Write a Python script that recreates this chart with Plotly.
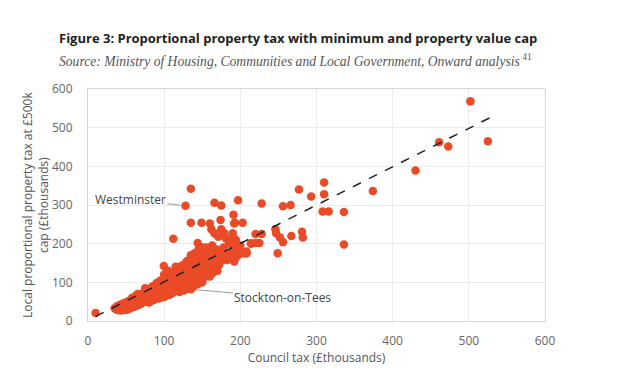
import plotly.graph_objects as go

# Council tax (£thousands) vs local proportional property tax at £500k cap (£thousands)
band_x = [35, 37, 38, 40, 40, 42, 43, 44, 45, 46, 47, 48, 49, 50, 50, 52, 52,
          53, 54, 55, 56, 57, 58, 59, 60, 60, 61, 62, 63, 64, 65, 66, 67, 68, 69, 70, 70,
          71, 72, 73, 74, 75, 76, 77, 78, 79, 80, 80, 81, 82, 83, 84, 85, 86, 87, 88, 89, 90, 90,
          91, 92, 93, 94, 95, 96, 97, 98, 99, 100, 100, 101, 102, 103, 104, 105, 106, 107, 108, 109, 110, 110,
          111, 112, 113, 114, 115, 116, 117, 118, 119, 120, 120, 121, 122, 123, 124, 125, 126, 127, 128, 129, 130, 130,
          131, 132, 133, 134, 135, 136, 137, 138, 139, 140, 140, 141, 142, 143, 144, 145, 146, 147, 148, 149, 150, 150,
          152, 153, 154, 155, 156, 157, 158, 160, 161, 162, 163, 164, 165, 166, 168, 169, 170, 171, 173, 175,
          178, 180, 183, 185, 188, 190, 192, 195, 198, 200, 205, 208, 214, 220, 225]
band_y = [33, 30, 38, 28, 35, 42, 31, 27, 37, 45, 33, 29, 40, 35, 48, 30, 42,
          52, 38, 45, 33, 55, 41, 48, 37, 60, 52, 44, 65, 40, 55, 48, 62, 43, 70, 52, 58,
          47, 65, 55, 72, 50, 62, 80, 57, 68, 48, 75, 60, 85, 52, 70, 63, 78, 55, 90, 67, 60, 82,
          72, 95, 58, 85, 67, 100, 78, 62, 90, 70, 110, 82, 65, 97, 75, 118, 88, 68, 105, 80, 93, 72,
          115, 85, 125, 78, 100, 135, 90, 110, 82, 128, 75, 98, 140, 105, 88, 120, 79, 135, 95, 112, 145, 84,
          125, 100, 150, 88, 118, 160, 105, 135, 92, 148, 110, 170, 125, 98, 140, 155, 115, 180, 130, 105, 145, 165,
          120, 175, 135, 190, 150, 125, 160, 140, 180, 130, 195, 155, 145, 170, 135, 185, 160, 150, 175, 165,
          190, 170, 158, 200, 178, 165, 210, 185, 172, 195, 175, 180, 200, 225, 202]

band2_x = [45, 48, 50, 53, 55, 58, 60, 62, 65, 68, 70, 72, 75, 78, 80, 83, 85, 88, 90, 92,
           95, 97, 100, 102, 104, 106, 108, 110, 112, 114, 116, 118, 120, 122, 124, 126, 128, 130,
           132, 134, 136, 138, 140, 142, 144, 146, 148, 150, 152, 154, 156, 158, 160, 162, 164, 166,
           168, 170, 172, 174, 100, 105, 110, 115, 120, 125, 130, 135, 140, 145, 150, 118, 128, 138,
           95, 90, 85, 75, 65, 58]
band2_y = [30, 36, 30, 40, 35, 38, 45, 38, 42, 50, 46, 50, 58, 52, 60, 62, 55, 62, 68, 64,
           60, 70, 62, 75, 68, 78, 72, 85, 75, 90, 80, 95, 85, 80, 100, 90, 85, 100,
           92, 110, 95, 88, 120, 105, 95, 125, 110, 100, 135, 115, 140, 130, 115, 150, 125, 140,
           160, 130, 145, 155, 120, 130, 125, 140, 140, 145, 155, 170, 175, 185, 190, 128, 150, 160,
           105, 98, 90, 85, 70, 60]

spread_x = [10, 135, 128, 166, 175, 197, 191, 135, 149, 193, 203, 174, 112, 144, 99.5,
            160, 162, 166, 175, 179, 171, 181, 188, 190, 192,
            195, 198, 208, 192, 177, 214, 153, 148, 160, 166, 174,
            310, 277, 293, 310, 228, 256, 266, 308, 316, 336,
            246, 247, 252, 256, 228, 267, 281, 282, 220, 249, 336,
            190, 194, 189, 195, 197, 208, 195,
            374, 430, 461, 473, 502, 525, 135]
spread_y = [21, 342, 298, 306, 299, 312, 275, 254, 254, 254, 254, 261, 213, 202, 142,
            252, 237, 227, 237, 227, 218, 214, 210, 227, 252,
            197, 184, 175, 154, 158, 201, 188, 175, 166, 153, 175,
            358, 340, 322, 328, 304, 297, 300, 283, 283, 282,
            237, 227, 216, 204, 225, 220, 231, 216, 202, 175, 198,
            216, 210, 201, 190, 175, 175, 166,
            336, 389, 462, 451, 568, 465, 82]

trend_x = [10, 527]
trend_y = [12, 525]

labels = ["Westminster", "Stockton-on-Tees"]
label_x = [128, 135]
label_y = [298, 82]

tick_vals = [0, 100, 200, 300, 400, 500, 600]

ORANGE = "#EA4B26"
FONT = "Open Sans"

fig = go.Figure()
fig.add_trace(go.Scatter(
    x=band_x + band2_x + spread_x, y=band_y + band2_y + spread_y, mode="markers",
    marker=dict(size=8.5, color=ORANGE, line=dict(width=0)),
    hoverinfo="x+y", showlegend=False))
fig.add_trace(go.Scatter(
    x=trend_x, y=trend_y, mode="lines",
    line=dict(color="#222222", width=1.5, dash="dash"),
    hoverinfo="skip", showlegend=False))

axis_common = dict(
    range=[0, 600], tickvals=tick_vals, showgrid=True, gridcolor="#ececec", gridwidth=1,
    zeroline=False, showline=True, linecolor="#d6d6d6", linewidth=1, mirror=True,
    ticks="outside", tickcolor="rgba(0,0,0,0)",
    tickfont=dict(family=FONT, size=12, color="#666666"), fixedrange=True)

fig.update_xaxes(**axis_common, ticklen=9,
                 title=dict(text="Council tax (£thousands)", standoff=5,
                            font=dict(family=FONT, size=12, color="#555555")))
fig.update_yaxes(**axis_common, ticklen=12)

annotations = [
    dict(text="<b>Figure 3: Proportional property tax with minimum and property value cap</b>",
         xref="paper", yref="paper", x=0, y=1, xshift=-31, yshift=51,
         xanchor="left", yanchor="middle", showarrow=False,
         font=dict(family=FONT, size=13, color="#222222")),
    dict(text="<i>Source: Ministry of Housing, Communities and Local Government, Onward analysis</i><sup> 41</sup>",
         xref="paper", yref="paper", x=0, y=1, xshift=-31, yshift=29,
         xanchor="left", yanchor="middle", showarrow=False,
         font=dict(family="Liberation Serif", size=13.6, color="#555555")),
    dict(text="Local proportional property tax at £500k<br>cap (£thousands)",
         xref="paper", yref="paper", x=0, y=0.5, xshift=-53, textangle=-90,
         xanchor="center", yanchor="middle", showarrow=False,
         font=dict(family=FONT, size=12, color="#555555")),
    dict(text=labels[0], x=label_x[0], y=label_y[0], xref="x", yref="y",
         ax=-55, ay=-6, showarrow=True, arrowhead=0, arrowwidth=1, arrowcolor="#9a9a9a",
         standoff=5, font=dict(family=FONT, size=12, color="#444444")),
    dict(text=labels[1], x=label_x[1], y=label_y[1], xref="x", yref="y",
         ax=92, ay=8, showarrow=True, arrowhead=0, arrowwidth=1, arrowcolor="#9a9a9a",
         standoff=5, font=dict(family=FONT, size=12, color="#444444")),
]

# the page body adds an 8px offset, so margins are shifted to place the plot like the reference
fig.update_layout(
    width=634, height=380,
    margin=dict(l=80, r=97, t=81, b=67),
    paper_bgcolor="white", plot_bgcolor="white",
    annotations=annotations, showlegend=False)

fig.write_html("out.html")
